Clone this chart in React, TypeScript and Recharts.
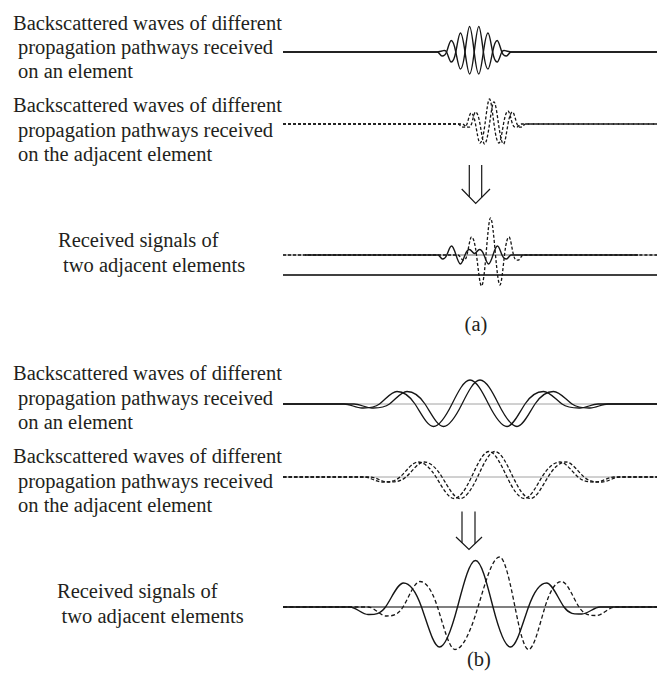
import React from 'react';
import { LineChart, Line, XAxis, YAxis } from 'recharts';

// ---------- time axis (arbitrary units, 0..374) ----------
const timeDomain: [number, number] = [0, 374];
const flatTime = [0, 374];
const flatVals = [0, 0];

// ---------- (a) row 1 : two wavelets on an element (solid) ----------
const a1Time = [0, 154.4, 159, 163.6, 168.2, 172.8, 177.4, 182, 186.6, 191.2, 195.8, 200.4, 205, 209.6, 214.2, 218.8, 223.4, 228, 374];
const a1WaveA = [0, 0, -4, 0, 11.5, 0, -17, 0, 25.5, 0, -22, 0, 19, 0, -10, 0, 1, 0, 0];
const a1WaveB = [0, 0, 1, 0, -10, 0, 19, 0, -22, 0, 25.5, 0, -17, 0, 11.5, 0, -4, 0, 0];

// ---------- (a) row 2 : two wavelets on the adjacent element (dashed) ----------
const a2TimeC = [0, 175, 179.5, 184, 188, 192.5, 197, 202, 206.5, 211, 216, 220.5, 225, 229.5, 234, 238, 374];
const a2WaveC = [0, 0, -3, 0, 11, 0, -19, 0, 25, 0, -19, 0, 13, 0, -3, 0, 0];
const a2TimeD = [0, 179.5, 184, 188.5, 192.5, 197, 201.5, 206.5, 211, 215.5, 220.5, 225, 229.5, 234, 238.5, 242.5, 374];
const a2WaveD = [0, 0, -3, 0, 12, 0, -20, 0, 22, 0, -20, 0, 12, 0, -3, 0, 0];

// ---------- (a) row 3 : received signals ----------
const a3SolidTime = [22, 155, 159.5, 163.8, 168.5, 173, 177.5, 182, 186.5, 191.5, 196.5, 201, 205.5, 210, 214.5, 219, 223.5, 228, 355];
const a3Solid = [0, 0, -4, 0, 9, 0, -9, 0, 5.5, 1.5, 5.5, 0, -9, 0, 9, 0, -4, 0, 0];
const a3DashTime = [0, 175, 180, 184, 188.5, 193.5, 198.5, 203, 207.5, 212.5, 217, 221.5, 226, 230.5, 235.5, 240, 374];
const a3Dash = [0, 0, -5, 0, 18, 0, -31, 0, 37, 0, -30, 0, 18, 0, -5, 0, 0];
const a3LowerLine = [-20, -20];

// ---------- (b) row 1 : solid ----------
const b1TimeE = [0, 61, 79, 96.5, 114, 132, 150.5, 169, 187, 205.5, 224, 242, 260.5, 279, 297, 315, 374];
const b1TimeF = [0, 71, 89, 106.5, 124, 142, 160.5, 179, 197, 215.5, 234, 252, 270.5, 289, 307, 325, 374];
const b1Wave = [0, 0, -4, 0, 12.5, 0, -22.5, 0, 24, 0, -22.5, 0, 12.5, 0, -4, 0, 0];

// ---------- (b) row 2 : dashed ----------
const b2TimeG = [0, 81, 99, 117, 135, 153, 171, 188.5, 206, 224, 241.5, 259, 277, 295, 313, 331, 374];
const b2TimeH = [0, 87, 105, 123, 141, 159, 177, 194.5, 212, 230, 247.5, 265, 283, 301, 319, 337, 374];
const b2Wave = [0, 0, -5, 0, 15, 0, -21.5, 0, 25.5, 0, -21.5, 0, 15, 0, -5, 0, 0];

// ---------- (b) row 3 : received signals ----------
const b3SolidTime = [0, 67, 85, 102.5, 120.5, 138.5, 156.5, 174.5, 192.5, 210, 227.5, 245.5, 263.5, 281, 299, 317, 374];
const b3Solid = [0, 0, -7.5, 0, 24, 0, -40, 0, 46.5, 0, -40, 0, 24, 0, -7, 0, 0];
const b3DashTime = [0, 85, 103.5, 120, 137, 154.5, 172, 195, 216.5, 232, 245.5, 262, 278.5, 296, 313.5, 332, 374];
const b3Dash = [0, 0, -9, 0, 25.5, 0, -42.5, 0, 50, 0, -42.5, 0, 25.5, 0, -8.5, 0, 0];

// ---------- labels ----------
const labelElement = ['Backscattered waves of different', 'propagation pathways received', 'on an element'];
const labelAdjacent = ['Backscattered waves of different', 'propagation pathways received', 'on the adjacent element'];
const labelReceived = ['Received signals of', 'two adjacent elements'];
const panelLabels = ['(a)', '(b)'];

type Pt = { t: number; v: number };
const pts = (t: number[], v: number[]): Pt[] => t.map((x, i) => ({ t: x, v: v[i] }));

// Smooth Hermite curve: flat tangents at extrema, sine-like tangents at crossings
function waveCurve(context: any) {
  let xs: number[] = [];
  let ys: number[] = [];
  return {
    areaStart() {},
    areaEnd() {},
    lineStart() {
      xs = [];
      ys = [];
    },
    point(x: number, y: number) {
      xs.push(+x);
      ys.push(+y);
    },
    lineEnd() {
      const n = xs.length;
      if (!n) return;
      const d: number[] = [];
      for (let i = 0; i < n - 1; i++) d.push((ys[i + 1] - ys[i]) / (xs[i + 1] - xs[i] || 1));
      const m: number[] = new Array(n).fill(0);
      for (let i = 1; i < n - 1; i++) {
        if (d[i - 1] * d[i] > 0) m[i] = (Math.PI / 2) * ((d[i - 1] + d[i]) / 2);
      }
      context.moveTo(xs[0], ys[0]);
      for (let i = 0; i < n - 1; i++) {
        const dx = (xs[i + 1] - xs[i]) / 3;
        context.bezierCurveTo(xs[i] + dx, ys[i] + m[i] * dx, xs[i + 1] - dx, ys[i + 1] - m[i + 1] * dx, xs[i + 1], ys[i + 1]);
      }
    },
  };
}

type Series = { data: Pt[]; dash?: string; width?: number; color?: string };

const INK = '#161616';

function WaveRow({ top, range, series }: { top: number; range: number; series: Series[] }) {
  const h = range * 2;
  return (
    <div style={{ position: 'absolute', left: 283, top, width: 374, height: h }}>
      <LineChart width={374} height={h} margin={{ top: 0, right: 0, bottom: 0, left: 0 }}>
        <XAxis type="number" dataKey="t" domain={timeDomain} hide allowDataOverflow />
        <YAxis type="number" domain={[-range, range]} hide allowDataOverflow />
        {series.map((s, i) => (
          <Line
            key={i}
            data={s.data}
            dataKey="v"
            type={waveCurve as any}
            stroke={s.color || INK}
            strokeWidth={s.width ?? 1.3}
            strokeDasharray={s.dash}
            dot={false}
            activeDot={false}
            isAnimationActive={false}
          />
        ))}
      </LineChart>
    </div>
  );
}

const FONT = '"Liberation Serif", "Times New Roman", serif';
const FS = 20.5;

function TextBlock({ lines, pos }: { lines: string[]; pos: [number, number][] }) {
  return (
    <>
      {lines.map((l, i) => (
        <text key={i} x={pos[i][0]} y={pos[i][1]} fontFamily={FONT} fontSize={FS} fill="#231f20">
          {l}
        </text>
      ))}
    </>
  );
}

export default function App() {
  return (
    <div style={{ position: 'absolute', left: 0, top: 0, width: 658, height: 673, background: '#fff', overflow: 'hidden' }}>
      {/* (a) */}
      <WaveRow
        top={22}
        range={30}
        series={[
          { data: pts(a1Time, a1WaveA), width: 1.4 },
          { data: pts(a1Time, a1WaveB), width: 1.4 },
        ]}
      />
      <WaveRow
        top={93.5}
        range={30}
        series={[
          { data: pts(a2TimeC, a2WaveC), dash: '3 2' },
          { data: pts(a2TimeD, a2WaveD), dash: '3 2' },
        ]}
      />
      <WaveRow
        top={214.5}
        range={40}
        series={[
          { data: pts(flatTime, a3LowerLine), width: 1.5, color: '#000' },
          { data: pts(flatTime, flatVals), width: 1.3, color: '#9a9a9a' },
          { data: pts(a3SolidTime, a3Solid), width: 1.4 },
          { data: pts(a3DashTime, a3Dash), dash: '3 2' },
        ]}
      />
      {/* (b) */}
      <WaveRow
        top={374.3}
        range={30}
        series={[
          { data: pts(flatTime, flatVals), width: 0.8, color: '#8a8a8a' },
          { data: pts(b1TimeE, b1Wave) },
          { data: pts(b1TimeF, b1Wave) },
        ]}
      />
      <WaveRow
        top={446.7}
        range={30}
        series={[
          { data: pts(flatTime, flatVals), width: 0.8, color: '#8a8a8a' },
          { data: pts(b2TimeG, b2Wave), dash: '3.5 2' },
          { data: pts(b2TimeH, b2Wave), dash: '3.5 2' },
        ]}
      />
      <WaveRow
        top={555.3}
        range={52}
        series={[
          { data: pts(flatTime, flatVals), width: 1.1, color: '#000' },
          { data: pts(b3SolidTime, b3Solid), width: 1.4 },
          { data: pts(b3DashTime, b3Dash), dash: '4 2.5' },
        ]}
      />

      <svg width={658} height={673} style={{ position: 'absolute', left: 0, top: 0, pointerEvents: 'none' }}>
        <TextBlock lines={labelElement} pos={[[13, 30], [18, 54], [18, 78.3]]} />
        <TextBlock lines={labelAdjacent} pos={[[13, 111.7], [18, 136.7], [18, 160.7]]} />
        <TextBlock lines={labelReceived} pos={[[58, 246.7], [63, 271.7]]} />
        <TextBlock lines={labelElement} pos={[[13, 380], [18, 405], [18, 429.3]]} />
        <TextBlock lines={labelAdjacent} pos={[[13, 463.3], [18, 488.3], [18, 512.3]]} />
        <TextBlock lines={labelReceived} pos={[[57, 598.3], [61.5, 622.7]]} />
        <text x={476} y={331} textAnchor="middle" fontFamily={FONT} fontSize={FS} fill="#231f20">{panelLabels[0]}</text>
        <text x={479} y={666} textAnchor="middle" fontFamily={FONT} fontSize={FS} fill="#231f20">{panelLabels[1]}</text>

        {/* arrows */}
        <g stroke={INK} strokeWidth={1.2} fill="none">
          <line x1={469.3} y1={165} x2={469.3} y2={196.8} />
          <line x1={481.7} y1={165} x2={481.7} y2={197.3} />
          <polyline points="461.7,189 475.7,203.3 490,189" />
          <line x1={462} y1={511.5} x2={462} y2={542.8} />
          <line x1={475} y1={511.5} x2={475} y2={543.7} />
          <polyline points="456,537 469,549.5 482,537" />
        </g>
      </svg>
    </div>
  );
}
